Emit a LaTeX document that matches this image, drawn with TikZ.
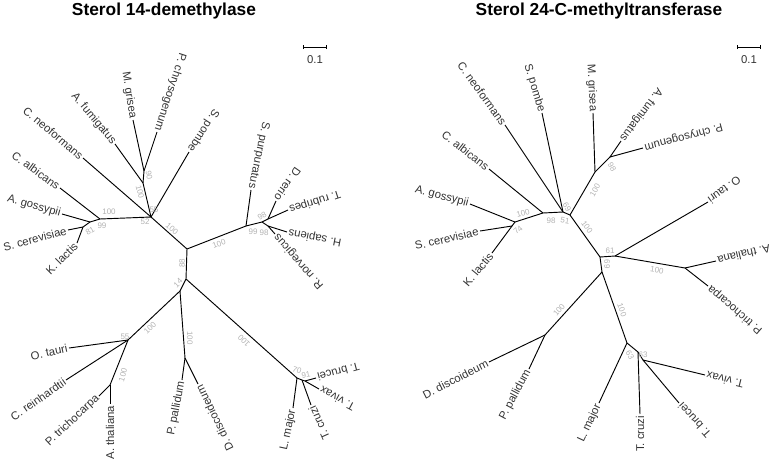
\documentclass[tikz,border=0pt]{standalone}
\usepackage{fontspec}
\setmainfont{Liberation Sans}
\usetikzlibrary{arrows.meta}
\tikzset{leaf/.style={anchor=east,inner sep=1pt,text=black!80,font=\fontsize{8.5}{10}\selectfont},
  bs/.style={inner sep=0pt,text=black!30,font=\fontsize{6}{7}\selectfont},
  title/.style={anchor=base,font=\bfseries\fontsize{13}{15}\selectfont}}

\begin{document}
\begin{tikzpicture}[x=0.75pt,y=-0.75pt,line width=.7pt]
\useasboundingbox (0,0) rectangle (772,461);
% titles and scale bars
\node[title] (t1) at (164,15) {Sterol 14-demethylase};
\node[title] (t2) at (599,15) {Sterol 24-C-methyltransferase};
\foreach \n/\x in {s1/303,s2/737}{
  \coordinate (\n a) at (\x,47); \coordinate (\n b) at (\x+24,47);
  \draw[{Bar[width=3pt]}-{Bar[width=3pt]}] (\n a)--(\n b);
  \node[leaf,anchor=center] (\n) at (\x+12,60) {0.1};}
% left tree
\foreach \n/\x/\y in {R/187/249,P/186/279,S/180/291,F/151/217,A/143/183,B/144/171,G/100/219,H/90/222,K/83/227,V/246/226,W/262/222,Fi/268/219,Ma/268/226,Q/128/340,Q2/110/385,D/185/358,Tk/297/378,Tk2/302/380,Tk3/305/381}
  \coordinate (\n) at (\x,\y);
\foreach \a/\b in {R/P,P/S,R/F,F/A,A/B,F/G,G/H,H/K,R/V,V/W,W/Fi,W/Ma,S/Q,Q/Q2,S/D,P/Tk,Tk/Tk2,Tk2/Tk3}
  \draw (\a)--(\b);
\foreach \n/\p/\x/\y/\r/\t in {mgri/B/133/120/-81/M. grisea,pchr/B/157/132/-108/P. chrysogenum,afum/A/115/144/-50/A. fumigatus,cneo/F/83/158/-40/C. neoformans,spom/F/189/152/-123/S. pombe,calb/G/60/188/-36/C. albicans,agos/H/62/214/-16/A. gossypii,scer/K/68/230/15/S. cerevisiae,klac/K/77/243/45/K. lactis,spur/V/251/190/-102/S. purpuratus,drer/Fi/276/201/-125/D. rerio,trub/Fi/288/210/-162/T. rubripes,hsap/Ma/287/232/169/H. sapiens,rnor/Ma/275/234/131/R. norvegicus,otau/Q/69/348/12/O. tauri,crei/Q/66/380/35/C. reinhardtii,ptri/Q2/99/396/43/P. trichocarpa,atha/Q2/110/404/90/A. thaliana,ppal/D/182/380/79/P. pallidum,ddis/D/198/384/116/D. discoideum,lmaj/Tk/293/408/78/L. major,tcru/Tk2/311/405/114/T. cruzi,tbru/Tk3/316/378/-165/T. brucei,tviv/Tk3/319/389/152/T. vivax}
  {\node[leaf,rotate=\r] (\n) at (\x,\y) {\t}; \draw (\p)--(\n.east);}
% bootstrap values, left
\foreach \x/\y/\r/\t [count=\i] in {149/175/-80/90,140/192/-75/100,154/210/0/55,145/222/0/52,109/212/0/100,102/226/0/99,90/231/30/81,172/229/-40/100,219/244/20/100,253/232/0/99,264/233/0/98,262/216/30/98,182/263/90/88,178/283/45/14,150/328/45/100,190/338/-90/100,244/341/135/100,125/337/0/55,123/375/75/100,297/370/-20/70,306/375/10/91}
  \node[bs,rotate=\r] (bl\i) at (\x,\y) {\t};
% right tree
\foreach \n/\x/\y in {Fa/563/212,Fb/570/215,Ga/543/213,Gb/515/222,Gc/512/226,Pz/595/172,Pza/610/157,Rt/600/257,Rp/615/256,Rd/602/272,Pl/685/268,Dy/545/335,Kt/627/343,Kta/638/352,Ktb/643/360}
  \coordinate (\n) at (\x,\y);
\foreach \a/\b in {Fb/Fa,Fa/Ga,Ga/Gb,Gb/Gc,Fb/Pz,Pz/Pza,Fb/Rt,Rt/Rp,Rt/Rd,Rp/Pl,Rd/Dy,Rd/Kt,Kt/Kta,Kta/Ktb}
  \draw (\a)--(\b);
\foreach \n/\p/\x/\y/\r/\t in {cneoR/Fa/505/125/-54/C. neoformans,spomR/Fa/542/113/-73/S. pombe,mgriR/Pz/593/113/-87/M. grisea,afumR/Pza/621/141/-127/A. fumigatus,pchrR/Pza/643/148/-165/P. chrysogenum,calbR/Ga/489/169/-38/C. albicans,agosR/Gb/470/204/-15/A. gossypii,scerR/Gc/480/231/13/S. cerevisiae,klacR/Gc/492/253/50/K. lactis,otauR/Rp/708/202/-144/O. tauri,athaR/Pl/716/261/-167/A. thaliana,ptriR/Pl/708/286/139/P. trichocarpa,ddisR/Dy/489/362/27/D. discoideum,ppalR/Dy/529/369/62/P. pallidum,lmajR/Kt/599/403/65/L. major,tcruR/Kta/640/414/90/T. cruzi,tvivR/Ktb/705/375/166/T. vivax,tbruR/Ktb/679/403/132/T. brucei}
  {\node[leaf,rotate=\r] (\n) at (\x,\y) {\t}; \draw (\p)--(\n.east);}
% bootstrap values, right
\foreach \x/\y/\r/\t [count=\i] in {523/213/15/100,518/230/40/74,551/221/0/98,565/221/-10/51,567/207/-60/69,587/227/-55/100,595/190/60/100,612/167/-60/98,610/251/0/61,607/264/-90/69,657/270/-10/100,622/310/-70/100,559/310/50/100,630/355/-60/63,643/355/0/63}
  \node[bs,rotate=\r] (br\i) at (\x,\y) {\t};
\end{tikzpicture}
\end{document}
